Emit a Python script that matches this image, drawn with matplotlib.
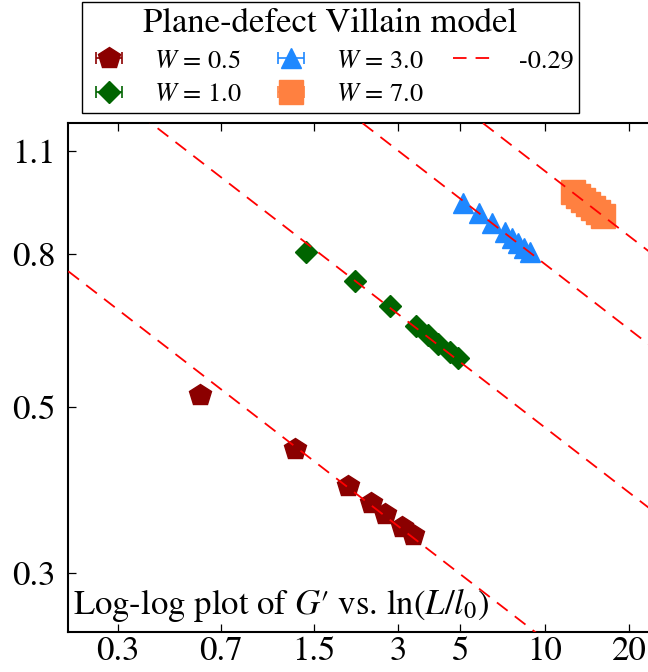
import numpy as np
import matplotlib
matplotlib.use("Agg")
import matplotlib.pyplot as plt
from matplotlib.ticker import FixedLocator, FixedFormatter, NullLocator

# values
x_w05 = [0.590, 1.286, 1.991, 2.394, 2.692, 3.087, 3.396]
y_w05 = [0.518, 0.4395, 0.3914, 0.3717, 0.3597, 0.3452, 0.3365]

x_w10 = [1.404, 2.104, 2.805, 3.463, 3.841, 4.169, 4.588, 4.910]
y_w10 = [0.806, 0.736, 0.6817, 0.641, 0.6233, 0.6076, 0.592, 0.5819]

x_w30 = [5.11, 5.824, 6.481, 7.21, 7.636, 8.02, 8.43, 8.855]
y_w30 = [0.936, 0.908, 0.880, 0.856, 0.841, 0.828, 0.815, 0.805]

x_w70 = [12.6, 13.13, 13.68, 14.25, 14.85, 15.47, 16.1]
y_w70 = [0.968, 0.957, 0.945, 0.933, 0.922, 0.911, 0.899]

# amplitude of power-law guide lines, slope -0.29
slope = -0.29
amps = [0.476, 0.915, 1.514, 2.017]

xticks = [0.3, 0.7, 1.5, 3, 5, 10, 20]
xtick_labels = ['0.3', '0.7', '1.5', '3', '5', '10', '20']
yticks = [0.3, 0.5, 0.8, 1.1]
ytick_labels = ['0.3', '0.5', '0.8', '1.1']

plt.rcParams['font.family'] = ['STIXGeneral', 'DejaVu Serif']
plt.rcParams['mathtext.fontset'] = 'stix'

fig = plt.figure(figsize=(6.48, 6.72), dpi=100)
ax = fig.add_axes([68.3 / 648, 40.3 / 672, 588 / 648, 509 / 672])

series = [
    (x_w05, y_w05, 'p', '#8B0000', 16.5, r'$W$ = 0.5'),
    (x_w10, y_w10, 'D', '#006400', 11.5, r'$W$ = 1.0'),
    (x_w30, y_w30, '^', '#1E88FF', 15, r'$W$ = 3.0'),
    (x_w70, y_w70, 's', '#FF8040', 17, r'$W$ = 7.0'),
]
handles = []
for xs, ys, m, c, ms, lab in series:
    h = ax.errorbar(xs, ys, xerr=np.zeros(len(xs)), fmt=m, color=c, ms=ms,
                    mec=c, ecolor=c, elinewidth=1.2, capsize=4, capthick=1.2,
                    label=lab, zorder=2)
    handles.append(h)

xl = np.geomspace(0.2, 25, 200)
for i, a in enumerate(amps):
    ln, = ax.plot(xl, a * xl ** slope, color='red', lw=1.3, dashes=(7.5, 5),
                  zorder=3, label='-0.29' if i == 0 else None)
    if i == 0:
        handles.append(ln)

ax.set_xscale('log')
ax.set_yscale('log')
ax.set_xlim(0.2, 25)
ax.set_ylim(0.25, 1.2)

ax.xaxis.set_major_locator(FixedLocator(xticks))
ax.xaxis.set_major_formatter(FixedFormatter(xtick_labels))
ax.xaxis.set_minor_locator(NullLocator())
ax.yaxis.set_major_locator(FixedLocator(yticks))
ax.yaxis.set_major_formatter(FixedFormatter(ytick_labels))
ax.yaxis.set_minor_locator(NullLocator())

ax.tick_params(axis='both', which='major', direction='in', length=6, width=0.9,
               labelsize=25, top=True, right=True)
ax.tick_params(axis='x', pad=3)
ax.tick_params(axis='y', pad=9)
for s in ax.spines.values():
    s.set_linewidth(1.5)

ax.text(0.008, 0.035, "Log-log plot of $G$\u2032 vs. ln($L$/$l_0$)",
        transform=ax.transAxes, fontsize=25, ha='left', va='baseline')

leg = ax.legend(handles=handles, ncol=3, title='Plane-defect Villain model',
                loc='upper center', bbox_to_anchor=(330.5 / 648, 1 - 2 / 672),
                bbox_transform=fig.transFigure, borderaxespad=0,
                fontsize=19, title_fontsize=25, frameon=True, fancybox=False,
                edgecolor='black', framealpha=1, columnspacing=1.1,
                handlelength=1.6, handletextpad=0.9, borderpad=0.22,
                labelspacing=0.35)
leg.get_frame().set_linewidth(1.0)

fig.savefig('out.png', dpi=100)
